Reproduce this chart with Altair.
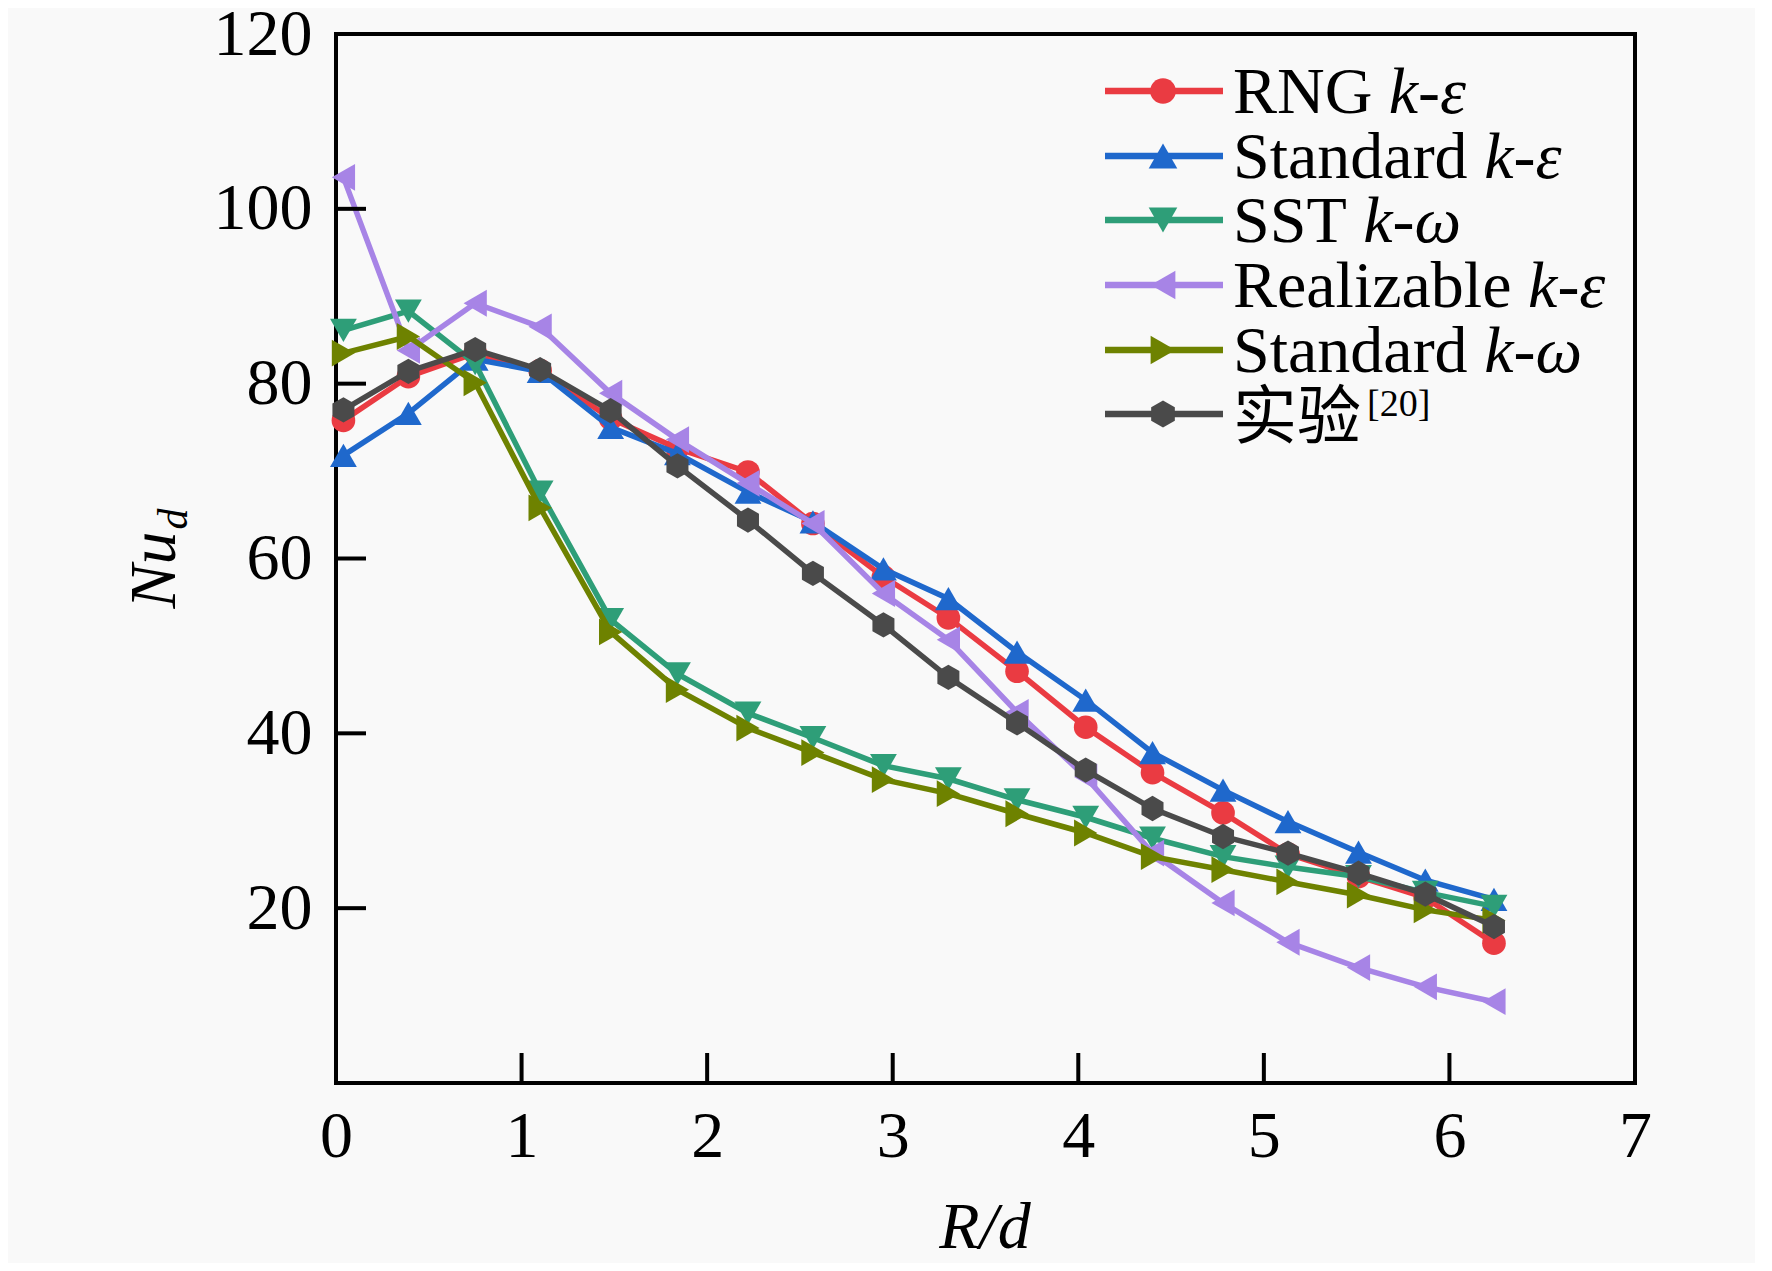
import altair as alt
import pandas as pd

# ---------------- data ----------------
R_d = [0.04, 0.39, 0.75, 1.10, 1.48, 1.84, 2.22, 2.57, 2.95, 3.30,
       3.67, 4.04, 4.40, 4.78, 5.13, 5.51, 5.87, 6.24]

rng_ke = [75.8, 80.8, 83.5, 81.5, 76.0, 72.6, 69.9, 64.0, 57.9, 53.2,
          47.1, 40.7, 35.5, 30.9, 26.2, 23.6, 21.2, 16.0]
std_ke = [71.8, 76.6, 82.8, 81.4, 75.0, 72.0, 67.6, 64.2, 58.8, 55.4,
          49.3, 43.8, 37.8, 33.5, 29.9, 26.4, 23.2, 21.0]
sst_kw = [86.1, 88.3, 82.3, 67.6, 53.0, 46.8, 42.3, 39.5, 36.3, 34.8,
          32.4, 30.4, 28.0, 25.9, 24.7, 23.6, 21.8, 20.2]
real_ke = [103.6, 83.8, 89.2, 86.5, 78.9, 73.6, 68.6, 64.0, 56.0, 50.7,
           42.4, 35.0, 26.3, 20.6, 16.1, 13.2, 11.0, 9.3]
std_kw = [83.5, 85.4, 80.1, 65.8, 51.6, 45.0, 40.6, 37.8, 34.7, 33.1,
          30.8, 28.6, 25.9, 24.4, 23.0, 21.5, 19.8, 18.6]
exp_20 = [77.0, 81.4, 83.9, 81.6, 76.9, 70.6, 64.4, 58.3, 52.4, 46.4,
          41.2, 35.8, 31.4, 28.2, 26.3, 24.0, 21.6, 17.9]

series_values = [rng_ke, std_ke, sst_kw, real_ke, std_kw, exp_20]
legend_roman = ["RNG ", "Standard ", "SST ", "Realizable ", "Standard ", "实验"]
legend_italic = ["k-ε", "k-ε", "k-ω", "k-ε", "k-ω", ""]
legend_sup = ["", "", "", "", "", "[20]"]

x_tick_labels = [0, 1, 2, 3, 4, 5, 6, 7]
y_tick_labels = [20, 40, 60, 80, 100, 120]
x_inner_ticks = [1, 2, 3, 4, 5, 6]
y_inner_ticks = [20, 40, 60, 80, 100]

# ---------------- styles ----------------
colors = ["#EA3B42", "#1F68CC", "#2E9E78", "#A784E6", "#6E8200", "#4A4A4A"]
HEX = "M0,-1L0.87,-0.5L0.87,0.5L0,1L-0.87,0.5L-0.87,-0.5Z"
shapes = ["circle", "triangle-up", "triangle-down", "triangle-left",
          "triangle-right", HEX]
sizes = [560, 720, 720, 720, 720, 640]

W, H = 1299, 1049
SERIF = "Liberation Serif"
CJK = "Noto Sans CJK SC"
FS = 66

xscale = alt.Scale(domain=[0, 7], nice=False, zero=False)
yscale = alt.Scale(domain=[0, 120], nice=False, zero=False)
xaxis = alt.Axis(values=x_tick_labels, title=None, grid=False, ticks=False,
                 tickSize=0, domain=False, labelFont=SERIF, labelFontSize=FS,
                 labelColor="black", labelPadding=21, labelFlush=False,
                 labelOverlap=False, labelBound=False, format="d")
yaxis = alt.Axis(values=y_tick_labels, title=None, grid=False, ticks=False,
                 tickSize=0, domain=False, labelFont=SERIF, labelFontSize=FS,
                 labelColor="black", labelPadding=24, labelFlush=False,
                 labelOverlap=False, labelBound=False, format="d")

layers = []

# series: line then markers, in legend order (experiment on top)
for vals, col, shp, sz in zip(series_values, colors, shapes, sizes):
    df = pd.DataFrame({"x": R_d, "y": vals})
    base = alt.Chart(df).encode(
        x=alt.X("x:Q", scale=xscale, axis=xaxis),
        y=alt.Y("y:Q", scale=yscale, axis=yaxis),
    )
    layers.append(base.mark_line(color=col, strokeWidth=5.5))
    layers.append(base.mark_point(shape=shp, size=sz, filled=True,
                                  color=col, opacity=1))

# inward ticks
layers.append(
    alt.Chart(pd.DataFrame({"x": x_inner_ticks})).mark_rule(
        color="black", strokeWidth=4).encode(
        x=alt.X("x:Q", scale=xscale, axis=xaxis),
        y=alt.value(H), y2=alt.value(H - 30))
)
layers.append(
    alt.Chart(pd.DataFrame({"y": y_inner_ticks})).mark_rule(
        color="black", strokeWidth=4).encode(
        y=alt.Y("y:Q", scale=yscale, axis=yaxis),
        x=alt.value(0), x2=alt.value(30))
)

# ---------------- legend (manual, to allow italic parts) ----------------
TIMES_W = {"R": 667, "N": 722, "G": 722, " ": 250, "S": 556, "t": 278,
           "a": 444, "n": 500, "d": 500, "r": 333, "T": 611, "e": 444,
           "l": 278, "i": 278, "z": 444, "b": 500}
row_y = [57, 122, 186, 251, 316, 380]
LX1, LX2, LMK, TX = 769, 887, 827, 897

def one(text):
    return pd.DataFrame({"t": [text]})

for i in range(6):
    yy = row_y[i]
    col = colors[i]
    layers.append(alt.Chart(one("")).mark_rule(color=col, strokeWidth=6.5).encode(
        x=alt.value(LX1), x2=alt.value(LX2), y=alt.value(yy)))
    layers.append(alt.Chart(one("")).mark_point(
        shape=shapes[i], size=sizes[i] + 100, filled=True, color=col,
        opacity=1).encode(x=alt.value(LMK), y=alt.value(yy)))
    if legend_italic[i]:
        layers.append(alt.Chart(one(legend_roman[i].strip())).mark_text(
            font=SERIF, fontSize=FS, align="left", baseline="alphabetic",
            color="black").encode(text="t:N", x=alt.value(TX),
                                  y=alt.value(yy + 22)))
        wpx = sum(TIMES_W[c] for c in legend_roman[i]) / 1000 * FS
        layers.append(alt.Chart(one(legend_italic[i])).mark_text(
            font=SERIF, fontSize=FS, fontStyle="italic", align="left",
            baseline="alphabetic", color="black").encode(
            text="t:N", x=alt.value(TX + wpx), y=alt.value(yy + 22)))
    else:
        layers.append(alt.Chart(one(legend_roman[i])).mark_text(
            font=CJK, fontSize=64, align="left", baseline="alphabetic",
            color="black").encode(text="t:N", x=alt.value(TX),
                                  y=alt.value(yy + 24)))
        layers.append(alt.Chart(one(legend_sup[i])).mark_text(
            font=SERIF, fontSize=38, align="left", baseline="alphabetic",
            color="black").encode(text="t:N", x=alt.value(TX + 134),
                                  y=alt.value(yy + 2)))

# ---------------- axis titles ----------------
layers.append(alt.Chart(one("Nu")).mark_text(
    font=SERIF, fontSize=FS, fontStyle="italic", angle=270, align="center",
    baseline="alphabetic", color="black").encode(
    text="t:N", x=alt.value(-161), y=alt.value(536)))
layers.append(alt.Chart(one("d")).mark_text(
    font=SERIF, fontSize=42, fontStyle="italic", angle=270, align="center",
    baseline="alphabetic", color="black").encode(
    text="t:N", x=alt.value(-149), y=alt.value(485)))
layers.append(alt.Chart(one("R/d")).mark_text(
    font=SERIF, fontSize=FS, fontStyle="italic", align="center",
    baseline="alphabetic", color="black").encode(
    text="t:N", x=alt.value(649), y=alt.value(1214)))

chart = alt.layer(*layers).properties(
    width=W, height=H,
    autosize=alt.AutoSizeParams(type="none"),
    padding={"left": 328, "top": 26, "right": 120, "bottom": 180},
    background="#f9f9f9",
).configure_view(stroke="black", strokeWidth=4)

chart.save("out.html", embed_options={"renderer": "svg", "actions": False})
